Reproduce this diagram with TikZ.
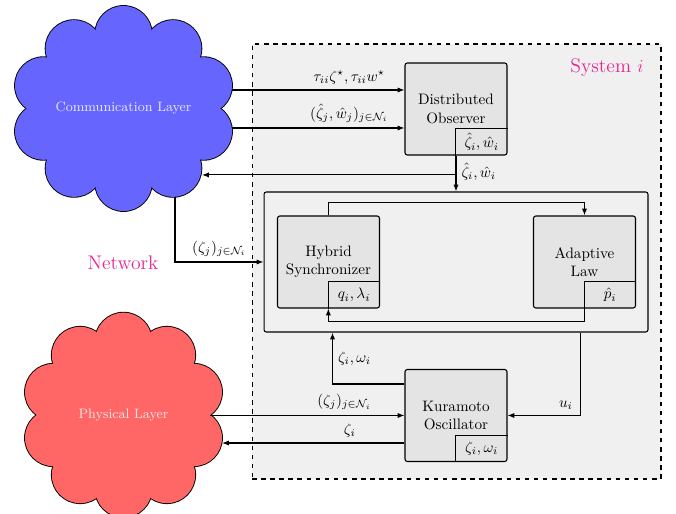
\documentclass[tikz,border=0pt]{standalone}
\usepackage{amsmath,amssymb}
\usetikzlibrary{arrows.meta,calc}
\definecolor{bgsys}{HTML}{F0F0F0}
\definecolor{boxfill}{HTML}{E4E4E4}
\definecolor{commblue}{HTML}{6666FF}
\definecolor{physred}{HTML}{FF6666}
\definecolor{labmag}{RGB}{231,38,145}
% #1 cx, #2 cy, #3 A, #4 B, #5 puff radius, #6 colour
\newcommand\mycloud[6]{%
  \foreach \k in {0,...,9} {\draw[line width=1.2pt] ({#1+#3*cos(90+36*\k)},{#2+#4*sin(90+36*\k)}) circle (#5);}
  \foreach \k in {0,...,9} {\fill[#6] ({#1+#3*cos(90+36*\k)},{#2+#4*sin(90+36*\k)}) circle (#5);}
  \fill[#6] (#1,#2) ellipse [x radius=#3, y radius=#4];
}
\begin{document}
\begin{tikzpicture}[x=0.66pt,y=-0.66pt,
  box/.style={draw, fill=boxfill, rounded corners=1.5pt, minimum width=67.3pt, minimum height=60.7pt, align=center, inner sep=0pt, line width=0.7pt},
  subbox/.style={anchor=south east, minimum width=33.7pt, minimum height=17.2pt, inner sep=0pt},
  arr/.style={-{Latex[length=4.5pt,width=3.4pt]}, line width=0.7pt},
  ln/.style={line width=0.7pt},
  cloudlabel/.style={text=white, text opacity=0.85, font=\small, inner sep=1pt},
  maglabel/.style={text=labmag, font=\fontsize{13}{15}\selectfont}
]
\useasboundingbox (0,0) rectangle (676,514);

% system frame
\node[draw, dashed, fill=bgsys, minimum width=269.9pt, minimum height=287.1pt, line width=0.7pt] (sys) at (456.5,261.5) {};
\node[maglabel] (systitle) at (607,68) {System $i$};

% inner frame
\node[draw, rounded corners=1.5pt, minimum width=253.4pt, minimum height=92.4pt, line width=0.7pt] (inner) at (456,262) {};

% blocks
\node[box] (obs) at (456,109) {Distributed\\Observer};
\node[subbox] (obsS) at (obs.south east) {$\hat\zeta_i,\hat w_i$};
\draw[ln] (obsS.south west) -- (obsS.north west) -- (obsS.north east);

\node[box] (hyb) at (328.5,262) {Hybrid\\Synchronizer};
\node[subbox] (hybS) at (hyb.south east) {$q_i,\lambda_i$};
\draw[ln] (hybS.south west) -- (hybS.north west) -- (hybS.north east);

\node[box] (ada) at (584.5,262) {Adaptive\\Law};
\node[subbox] (adaS) at (ada.south east) {$\hat p_i$};
\draw[ln] (adaS.south west) -- (adaS.north west) -- (adaS.north east);

\node[box] (kur) at (456,415.5) {Kuramoto\\Oscillator};
\node[subbox] (kurS) at (kur.south east) {$\zeta_i,\omega_i$};
\draw[ln] (kurS.south west) -- (kurS.north west) -- (kurS.north east);

% clouds
\mycloud{123.5}{108.5}{84.2}{74.1}{28.4}{commblue}
\mycloud{123.5}{415}{73.8}{74}{28.3}{physred}
\node[cloudlabel] (comm) at (123.5,108.5) {Communication Layer};
\node[cloudlabel] (phys) at (123.5,415) {Physical Layer};
\node[maglabel] (net) at (123,263) {Network};

% points on the cloud borders
\coordinate (ca) at (231.6,90);
\coordinate (cb) at (231.6,128);
\coordinate (cc) at (202,175);
\coordinate (cd) at (175,196.8);
\coordinate (pa) at (210.3,415.5);
\coordinate (pb) at (222,442);

% connectors
\draw[arr] (ca) -- (ca -| obs.west) node[pos=0.68, above] {$\tau_{ii}\zeta^\star,\tau_{ii}w^\star$};
\draw[arr] (cb) -- (cb -| obs.west) node[pos=0.68, above] {$(\hat\zeta_j,\hat w_j)_{j\in\mathcal{N}_i}$};
\draw[arr] (obs.south) -- (inner.north) node[pos=0.45, right] {$\hat\zeta_i,\hat w_i$};
\coordinate (o1) at ($(obs.south)!0.54!(inner.north)$);
\draw[arr] (o1) -- (o1 -| cc);

\draw[arr] (hyb.north) -- ++(0,-13) -| (ada.north);
\draw[arr] (adaS.south west) -- ++(0,13) -| (hybS.south west);

\draw[arr] (cd) |- (inner.west) node[pos=0.75, above] {$(\zeta_j)_{j\in\mathcal{N}_i}$};

\coordinate (k0) at ($(kur.north west)+(0,15)$);
\coordinate (i0) at ($(inner.south west)+(69,0)$);
\draw[arr] (k0) -| (i0) node[pos=0.75, right] {$\zeta_i,\omega_i$};
\coordinate (i1) at ($(inner.south east)+(-68,0)$);
\draw[arr] (i1) |- (kur.east) node[pos=0.6, above] {$u_i$};

\draw[arr] (pa) -- (kur.west) node[pos=0.69, above] {$(\zeta_j)_{j\in\mathcal{N}_i}$};
\coordinate (k1) at ($(kur.south west)+(0,-19)$);
\draw[arr] (k1) -- (k1 -| pb) node[pos=0.3, above] {$\zeta_i$};
\end{tikzpicture}
\end{document}
